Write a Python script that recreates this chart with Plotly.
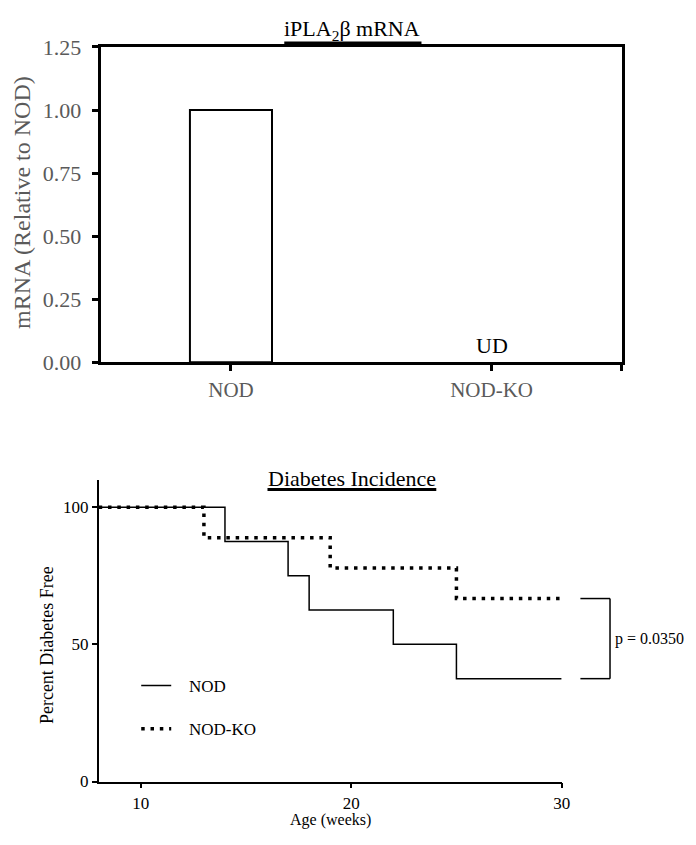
import plotly.graph_objects as go

# ---------------- data ----------------
groups = ["NOD", "NOD-KO"]
mrna_rel = [1.00, 0.0]            # NOD-KO undetectable (UD)
mrna_ticks = [0.00, 0.25, 0.50, 0.75, 1.00, 1.25]
mrna_tick_labels = ["0.00", "0.25", "0.50", "0.75", "1.00", "1.25"]

nod_weeks = [8, 14, 17, 18, 22, 25, 30]
nod_free = [100, 87.5, 75, 62.5, 50, 37.5, 37.5]
ko_weeks = [8, 13, 19, 25, 30]
ko_free = [100, 88.9, 77.8, 66.7, 66.7]
age_ticks = [10, 20, 30]
pct_ticks = [0, 50, 100]
p_text = "p = 0.0350"

# ---------------- layout helpers ----------------
W, H = 696, 845
SERIF = "Liberation Serif, Times New Roman, serif"
GRAY = "#5a5a5a"
NBSP = "\u00a0"


def px(x):
    return x / W


def py(y):
    return 1 - y / H


fig = go.Figure()

# top bar chart
fig.add_trace(go.Bar(
    x=list(range(len(groups))), y=mrna_rel, width=0.315,
    marker=dict(color="white", line=dict(color="black", width=[2, 0])),
    xaxis="x", yaxis="y", showlegend=False, hoverinfo="skip"))

# bottom survival curves
fig.add_trace(go.Scatter(
    x=nod_weeks, y=nod_free, mode="lines", line_shape="hv",
    line=dict(color="black", width=1.5), name=NBSP * 3 + "NOD",
    xaxis="x2", yaxis="y2", legendgroup="a"))
fig.add_trace(go.Scatter(
    x=ko_weeks, y=ko_free, mode="lines", line_shape="hv",
    line=dict(color="black", width=3.5, dash="3.5px,5.8px"), name=NBSP * 3 + "NOD-KO",
    xaxis="x2", yaxis="y2", legendgroup="b"))

y_top = [0, 1.25]
y_bot = [0, 110]

fig.update_layout(
    width=W, height=H, margin=dict(l=0, r=0, t=0, b=0),
    paper_bgcolor="white", plot_bgcolor="white",
    font=dict(family=SERIF, color="black"),
    xaxis=dict(domain=[px(102), px(630)], range=[-0.5, 1.5],
               tickvals=[0, 1], ticktext=groups,
               minor=dict(tickvals=[1.5], ticks="outside", ticklen=6, tickwidth=2.5,
                          tickcolor="black", showgrid=False),
               showline=True, mirror=True, linewidth=3, linecolor="black",
               ticks="outside", ticklen=6, tickwidth=2.5, tickcolor="black",
               tickfont=dict(size=21, color=GRAY, family=SERIF),
               showgrid=False, zeroline=False, fixedrange=True, anchor="y"),
    yaxis=dict(domain=[py(361), py(36)], range=y_top,
               tickvals=mrna_ticks, ticktext=mrna_tick_labels,
               showline=True, mirror=True, linewidth=3, linecolor="black",
               ticks="outside", ticklen=6, tickwidth=2.5, tickcolor="black",
               tickfont=dict(size=22, color=GRAY, family=SERIF),
               ticklabelstandoff=6,
               showgrid=False, zeroline=False, anchor="x"),
    xaxis2=dict(domain=[px(100), px(569)], range=[8, 30], tickvals=age_ticks,
                showline=True, linewidth=1.5, linecolor="black",
                ticks="outside", ticklen=5, tickwidth=1.5, tickcolor="black",
                tickfont=dict(size=17, color="black", family=SERIF),
                showgrid=False, zeroline=False, anchor="y2"),
    yaxis2=dict(domain=[py(793), py(482)], range=y_bot, tickvals=pct_ticks,
                showline=True, linewidth=1.5, linecolor="black",
                ticks="outside", ticklen=5, tickwidth=1.5, tickcolor="black",
                tickfont=dict(size=17, color="black", family=SERIF),
                showgrid=False, zeroline=False, anchor="x2"),
    legend=dict(x=px(138), y=py(676), xanchor="left", yanchor="top",
                font=dict(size=17, family=SERIF, color="black"),
                bgcolor="rgba(0,0,0,0)", tracegroupgap=18,
                itemwidth=30),
)

ann = []
# titles
ann.append(dict(text="iPLA<sub>2</sub>β mRNA", x=px(357), y=py(19), xref="paper", yref="paper",
                showarrow=False, font=dict(size=22, family=SERIF, color="black"),
                xanchor="center", yanchor="middle"))
ann.append(dict(text="Diabetes Incidence", x=px(357), y=py(481), xref="paper", yref="paper",
                showarrow=False, font=dict(size=22, family=SERIF, color="black"),
                xanchor="center", yanchor="middle"))
# axis titles
ann.append(dict(text="mRNA (Relative to NOD)", x=px(22), y=py(196), xref="paper", yref="paper",
                showarrow=False, textangle=-90, font=dict(size=24, family=SERIF, color=GRAY),
                xanchor="center", yanchor="middle"))
ann.append(dict(text="Percent Diabetes Free", x=px(47), y=py(652), xref="paper", yref="paper",
                showarrow=False, textangle=-90, font=dict(size=18, family=SERIF, color="black"),
                xanchor="center", yanchor="middle"))
ann.append(dict(text="Age (weeks)", x=px(335), y=py(833), xref="paper", yref="paper",
                showarrow=False, font=dict(size=16, family=SERIF, color="black"),
                xanchor="center", yanchor="middle"))
# UD label
ann.append(dict(text="UD", x=1, y=mrna_rel[1], xref="x", yref="y", showarrow=False,
                yanchor="bottom", yshift=2, font=dict(size=22, family=SERIF, color="black")))

# p-value bracket (between final values of both curves)
y_hi = ko_free[-1] / y_bot[1]
y_lo = nod_free[-1] / y_bot[1]
bx0, bx1 = 1.0405, 1.1045
shapes = [
    dict(type="line", xref="x2 domain", yref="y2 domain", x0=bx0, x1=bx1, y0=y_hi, y1=y_hi,
         line=dict(color="black", width=1.5)),
    dict(type="line", xref="x2 domain", yref="y2 domain", x0=bx0, x1=bx1, y0=y_lo, y1=y_lo,
         line=dict(color="black", width=1.5)),
    dict(type="line", xref="x2 domain", yref="y2 domain", x0=bx1, x1=bx1, y0=y_lo, y1=y_hi,
         line=dict(color="black", width=1.5)),
    # title underlines
    dict(type="line", xref="paper", yref="paper", x0=px(288), x1=px(427), y0=py(32), y1=py(32),
         line=dict(color="black", width=3)),
    dict(type="line", xref="paper", yref="paper", x0=px(271), x1=px(442), y0=py(492), y1=py(492),
         line=dict(color="black", width=3)),
]
ann.append(dict(text=p_text, x=1.11, y=(y_hi + y_lo) / 2, xref="x2 domain", yref="y2 domain",
                showarrow=False, xanchor="left", yanchor="middle",
                font=dict(size=16, family=SERIF, color="black")))

fig.update_layout(annotations=ann, shapes=shapes)
fig.write_html("out.html", config={"displayModeBar": False},
               post_script="document.body.style.margin='0';")
